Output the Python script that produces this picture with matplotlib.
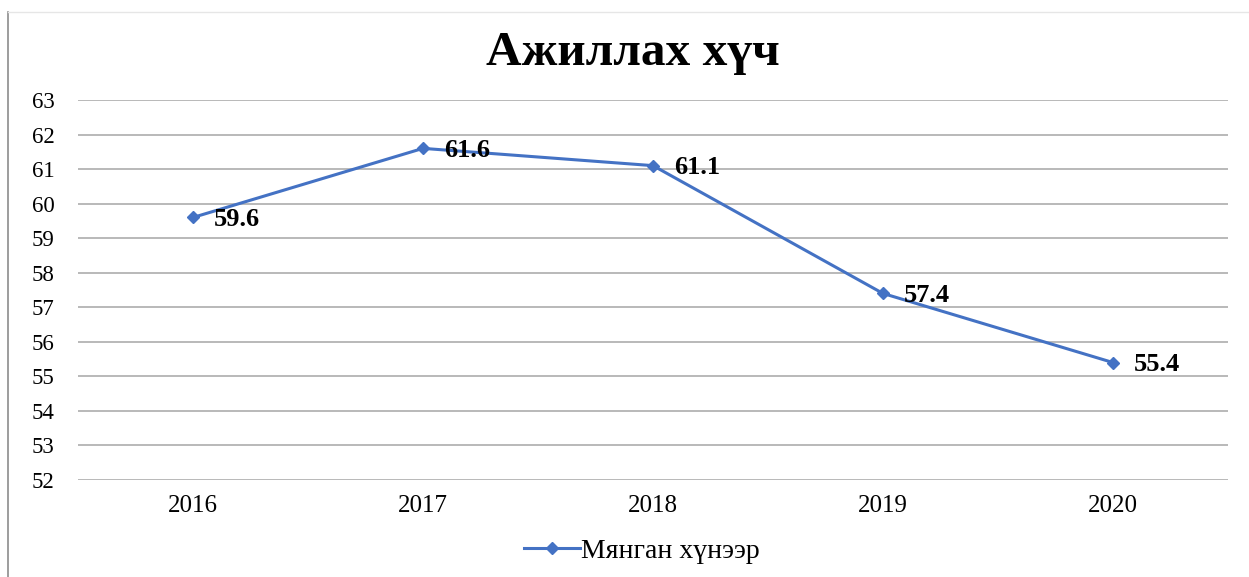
import matplotlib
matplotlib.use('Agg')
import matplotlib.pyplot as plt
from matplotlib.lines import Line2D

# values
years = ['2016', '2017', '2018', '2019', '2020']
workforce = [59.6, 61.6, 61.1, 57.4, 55.4]
y_ticks = list(range(52, 64))

title = 'Ажиллах хүч'
series_name = 'Мянган хүнээр'

plt.rcParams['font.family'] = ['Liberation Serif', 'DejaVu Serif']

W, H = 1249, 577
fig = plt.figure(figsize=(W / 100, H / 100), dpi=100)
ax = fig.add_axes([78 / W, 1 - 480 / H, 1150 / W, 380 / H])

line_color = '#4472C4'
x = range(len(years))
ax.plot(x, workforce, '-D', color=line_color, linewidth=2.2, markersize=6.5,
        label=series_name)

for xi, v in zip(x, workforce):
    ax.annotate(f'{v:.1f}', (xi, v), xytext=(21, -2), textcoords='offset pixels',
                ha='left', va='center', fontsize=19, fontweight='bold', color='black')

ax.set_xlim(-0.5, len(years) - 0.5)
ax.set_ylim(52, 63)
ax.set_yticks(y_ticks)
ax.set_xticks(list(x))
ax.set_xticklabels(years)
ax.tick_params(axis='y', length=0, pad=17, labelsize=16.5)
ax.tick_params(axis='x', length=0, pad=11, labelsize=18)
ax.yaxis.grid(True, color='#a6a6a6', linewidth=1.1)
ax.set_axisbelow(True)
for s in ax.spines.values():
    s.set_visible(False)

fig.text(633 / W, 1 - 53 / H, title, ha='center', va='center',
         fontsize=35.5, fontweight='bold')

fig.legend(loc='center', bbox_to_anchor=(642 / W, 1 - 551 / H), frameon=False,
           fontsize=20, handlelength=2.0, handletextpad=0.05)

# outer chart frame
fig.add_artist(Line2D([8 / W, 8 / W], [0, 1 - 12 / H], transform=fig.transFigure,
                      color='#8c8c8c', linewidth=1.2))
fig.add_artist(Line2D([8 / W, 1], [1 - 12 / H, 1 - 12 / H], transform=fig.transFigure,
                      color='#e6e6e6', linewidth=1.0))

fig.savefig('out.png', dpi=100)
